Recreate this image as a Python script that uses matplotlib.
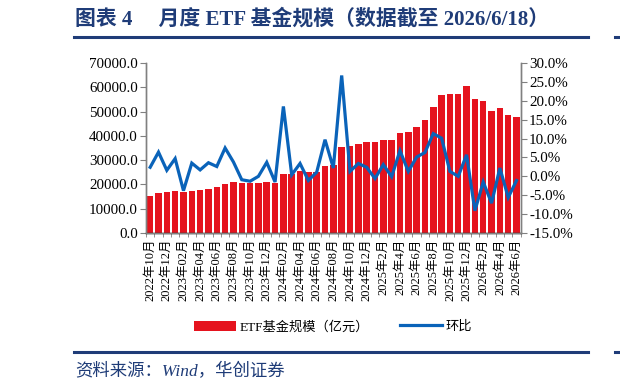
import matplotlib
matplotlib.use("Agg")
import matplotlib.pyplot as plt
from matplotlib.patches import Patch
from matplotlib.lines import Line2D
from matplotlib.ticker import FuncFormatter, MultipleLocator
import numpy as np

months = [
    "2022年10月", "2022年11月", "2022年12月",
    "2023年01月", "2023年02月", "2023年03月", "2023年04月", "2023年05月", "2023年06月",
    "2023年07月", "2023年08月", "2023年09月", "2023年10月", "2023年11月", "2023年12月",
    "2024年01月", "2024年02月", "2024年03月", "2024年04月", "2024年05月", "2024年06月",
    "2024年07月", "2024年08月", "2024年09月", "2024年10月", "2024年11月", "2024年12月",
    "2025年1月", "2025年2月", "2025年3月", "2025年4月", "2025年5月", "2025年6月",
    "2025年7月", "2025年8月", "2025年9月", "2025年10月", "2025年11月", "2025年12月",
    "2026年1月", "2026年2月", "2026年3月", "2026年4月", "2026年5月", "2026年6月",
]

etf_scale = [
    15340, 16440, 16850, 17400, 16700, 17400, 17670, 18200, 18770, 20000,
    20820, 20700, 20400, 20400, 21100, 20700, 24500, 24250, 25340, 24930,
    25200, 27530, 27950, 35480, 35750, 36850, 37670, 37400, 38500, 38360,
    41100, 41500, 43700, 46440, 51780, 56700, 57400, 57400, 60680, 55200,
    54250, 50400, 51640, 48630, 47950,
]

mom_pct = [
    2.4, 6.4, 1.6, 4.7, -3.8, 3.5, 1.7, 3.6, 2.6, 7.5,
    3.8, -0.9, -1.3, 0.0, 3.7, -1.5, 18.5, 0.4, 3.4, -1.1,
    1.1, 9.7, 2.2, 26.7, 1.3, 3.4, 2.4, -0.6, 3.1, -0.1,
    6.8, 1.3, 5.1, 6.3, 11.3, 10.1, 1.3, 0.0, 5.7, -9.1,
    -1.5, -7.1, 2.2, -5.6, -1.1,
]

title_text = "图表 4　 月度 ETF 基金规模（数据截至 2026/6/18）"
source_text = "资料来源：Wind，华创证券"
bar_label = "ETF基金规模（亿元）"
line_label = "环比"

RED = "#E5131E"
BLUE = "#0A63B9"
NAVY = "#1F3C78"
GRAY = "#808080"
FONTS = ["Liberation Serif", "Noto Sans CJK SC", "DejaVu Sans"]

plt.rcParams["font.family"] = FONTS

fig = plt.figure(figsize=(6.2, 3.92), dpi=100)
ax = fig.add_axes([146 / 620, 1 - 233 / 392, (520.7 - 146) / 620, 170 / 392])
ax2 = ax.twinx()

x = np.arange(len(months))
ax.bar(x, etf_scale, width=0.78, color=RED, zorder=2)
ax2.plot(x, mom_pct, color=BLUE, lw=2.3, zorder=3, solid_joinstyle="miter")

ax.set_xlim(-0.5, len(months) - 0.5)
ax.set_ylim(0, 70000)
ax.yaxis.set_major_locator(MultipleLocator(10000))
ax.yaxis.set_major_formatter(FuncFormatter(lambda v, p: f"{v:.1f}"))
ax2.set_ylim(-15, 30)
ax2.yaxis.set_major_locator(MultipleLocator(5))
ax2.yaxis.set_major_formatter(FuncFormatter(lambda v, p: f"{v:.1f}%"))

ax.set_xticks(x[::2])
ax.set_xticklabels(months[::2], rotation=90, fontsize=9)
ax.set_xticks(np.arange(-0.5, len(months), 1), minor=True)
ax.tick_params(axis="x", which="major", length=0, pad=4)
ax.tick_params(axis="x", which="minor", length=3, color=GRAY, direction="out")
ax.tick_params(axis="y", length=4, color=GRAY, labelsize=10.8, pad=2)
ax2.tick_params(axis="y", length=4, color=GRAY, labelsize=10.8, pad=2)

for a in (ax, ax2):
    a.spines["top"].set_visible(False)
    for s in ("left", "right", "bottom"):
        a.spines[s].set_color(GRAY)
        a.spines[s].set_linewidth(1.0)
ax.spines["bottom"].set_color("#000000")

handles = [Patch(facecolor=RED, edgecolor="none"), Line2D([0], [0], color=BLUE, lw=2.3)]
fig.legend(handles, [bar_label, line_label], loc="center", bbox_to_anchor=(0.537, 0.166),
           ncol=2, frameon=False, fontsize=9.5, handlelength=3.2, handleheight=0.8,
           columnspacing=2.3, handletextpad=0.3)

fig.text(75 / 620, 1 - 19 / 392, title_text, fontsize=15, fontweight="bold",
         color=NAVY, ha="left", va="center")
fig.add_artist(Line2D([74 / 620, 588 / 620], [1 - 37 / 392] * 2, color=NAVY, lw=2.2))
fig.add_artist(Line2D([615 / 620, 1.0], [1 - 37 / 392] * 2, color=NAVY, lw=2.2))
fig.add_artist(Line2D([74 / 620, 588 / 620], [1 - 352 / 392] * 2, color=NAVY, lw=2.2))
fig.add_artist(Line2D([615 / 620, 1.0], [1 - 352 / 392] * 2, color=NAVY, lw=2.2))
fig.text(75 / 620, 1 - 372 / 392, source_text, fontsize=12.5, color=NAVY,
         ha="left", va="center", style="italic")

fig.savefig("out.png", dpi=100)
